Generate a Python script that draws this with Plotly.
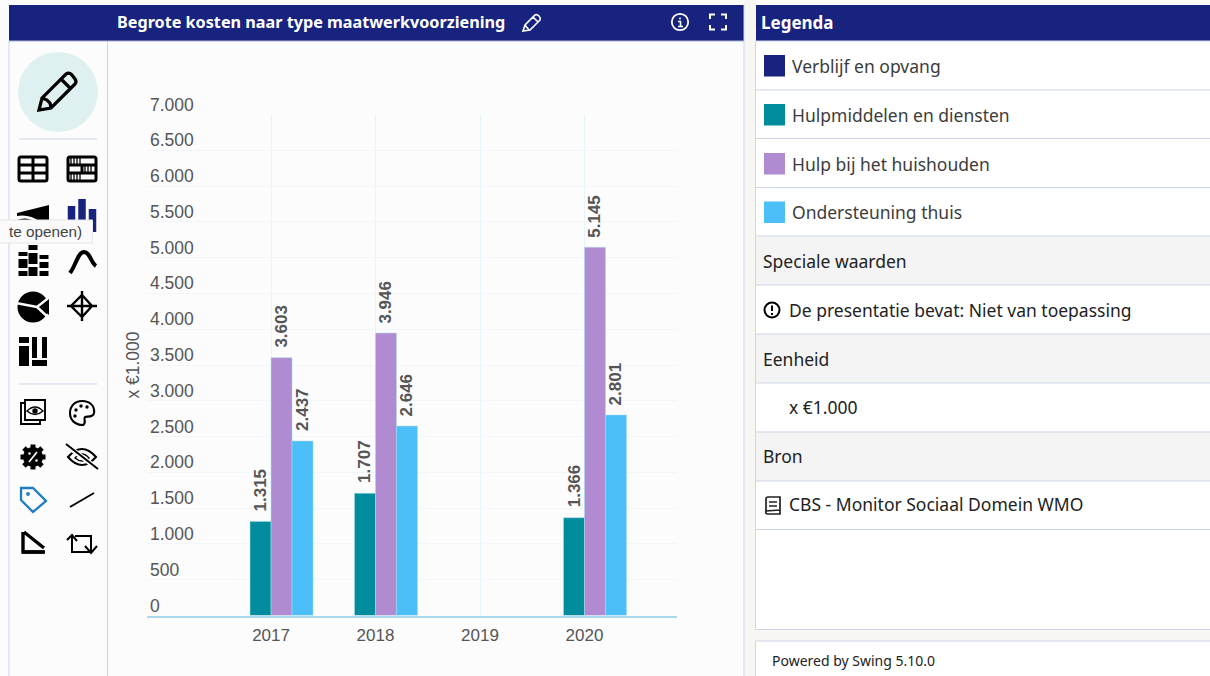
import re
import plotly.graph_objects as go

W, H = 1210, 676

years = ["2017", "2018", "2019", "2020"]
verblijf = [None, None, None, None]
hulpmiddelen = [1315, 1707, None, 1366]
huishouden = [3603, 3946, None, 5145]
ondersteuning = [2437, 2646, None, 2801]
series_names = ["Verblijf en opvang", "Hulpmiddelen en diensten", "Hulp bij het huishouden", "Ondersteuning thuis"]
series_colors = ["#17237e", "#008c9c", "#b08bd2", "#4cbef8"]
y_ticks = [0, 500, 1000, 1500, 2000, 2500, 3000, 3500, 4000, 4500, 5000, 5500, 6000, 6500, 7000]
panel_rows = ["Speciale waarden", "De presentatie bevat: Niet van toepassing", "Eenheid", "x €1.000", "Bron", "CBS - Monitor Sociaal Domein WMO"]

NAVY = "#17237e"
BORDER = "#cdd5e8"
GAP = "#f7f6f2"
UI_FONT = "Noto Sans"
CHART_FONT = "Liberation Sans"
GRAY = "#555555"
BG = "#fcfcfc"


def fmt(v):
    return f"{v:,}".replace(",", ".")


def px(x):
    return x / W


def py(y):
    return 1 - y / H


def conv(path):
    out, is_x = [], True
    for tok in re.findall(r"[MLCQZ]|-?\d+\.?\d*", path):
        if tok in "MLCQZ":
            out.append(tok)
            is_x = True
        else:
            out.append(f"{px(float(tok)) if is_x else py(float(tok)):.5f}")
            is_x = not is_x
    return " ".join(out)


shapes, notes = [], []


def rect(x0, y0, x1, y1, fill, line=None, lw=1, layer="below"):
    shapes.append(dict(type="rect", xref="paper", yref="paper", x0=px(x0), x1=px(x1), y0=py(y0), y1=py(y1),
                       fillcolor=fill, line=dict(color=line or "rgba(0,0,0,0)", width=lw if line else 0), layer=layer))


def circ(cx, cy, r, fill="rgba(0,0,0,0)", line=None, lw=2, layer="below"):
    shapes.append(dict(type="circle", xref="paper", yref="paper", x0=px(cx - r), x1=px(cx + r), y0=py(cy - r), y1=py(cy + r),
                       fillcolor=fill, line=dict(color=line or "rgba(0,0,0,0)", width=lw if line else 0), layer=layer))


def path(d, line="#000000", lw=2, fill="rgba(0,0,0,0)", layer="below"):
    shapes.append(dict(type="path", xref="paper", yref="paper", path=conv(d), fillcolor=fill,
                       line=dict(color=line or "rgba(0,0,0,0)", width=lw if line else 0), layer=layer))


def text(x, y, s, size=17, color="#333333", font=UI_FONT, anchor="left", bold=False):
    notes.append(dict(xref="paper", yref="paper", x=px(x), y=py(y), text=f"<b>{s}</b>" if bold else s, showarrow=False,
                      xanchor=anchor, yanchor="middle", borderpad=0, font=dict(family=font, size=size, color=color)))


# Page frame
rect(0, 0, W, H, BG)
rect(744, 0, 756, H, GAP)
rect(756, 630, W, 641, GAP)
rect(9, 5, 744, 41, NAVY)
rect(756, 5, W, 41, NAVY)
rect(755.5, 41, W + 2, 629.5, "#ffffff", BORDER)
rect(755.5, 641, W + 2, H + 2, "#ffffff", BORDER)
path("M 9 41 L 9 676", BORDER, 1)
path("M 744 5 L 744 676", BORDER, 1)
path("M 107.5 41 L 107.5 676", BORDER, 1)
path("M 9 41 L 744 41", "#aab2d0", 1)

# Header text
text(116, 22.5, "Begrote kosten naar type maatwerkvoorziening", 16.2, "#ffffff", bold=True)
text(760, 22.5, "Legenda", 17, "#ffffff", bold=True)

# Header icons
path("M 523 31 L 525 25 L 535 15 Q 537 14 539 16 Q 541 18 540 20 L 530 30 Z M 533 17 L 538 22 M 525 25 L 529 30", "#ffffff", 1.6)
circ(680, 22, 8.2, line="#ffffff", lw=1.8)
circ(680, 18.5, 1, fill="#ffffff")
path("M 678 21.5 L 680.5 21.5 L 680.5 26 M 678 26.5 L 683 26.5", "#ffffff", 1.6)
path("M 710 19 L 710 14.5 L 715 14.5 M 721 14.5 L 726 14.5 L 726 19 M 726 25 L 726 29.5 L 721 29.5 M 715 29.5 L 710 29.5 L 710 25", "#ffffff", 2)

# Legend rows
row_edges = [90, 138.5, 187.5, 236, 285, 334, 383, 432, 481, 529.5]
rect(756, 236.5, W, 285, "#f4f4f4")
rect(756, 334, W, 383, "#f4f4f4")
rect(756, 432, W, 481, "#f4f4f4")
for e in row_edges:
    path(f"M 756 {e} L {W} {e}", BORDER, 1)
swatch_y = [66, 115, 164, 212.5]
UI_SIZE = 17.5
for name, c, sy in zip(series_names, series_colors, swatch_y):
    rect(764, sy - 11, 785, sy + 10.5, c)
    text(791, sy - 0.5, name, UI_SIZE, "#3c3c3c")
text(762, 260.5, panel_rows[0], UI_SIZE, "#222222")
text(788, 309.5, panel_rows[1], UI_SIZE, "#222222")
text(762, 358.5, panel_rows[2], UI_SIZE, "#222222")
text(788, 407, panel_rows[3], UI_SIZE, "#222222")
text(762, 455.5, panel_rows[4], UI_SIZE, "#222222")
text(788, 504.5, panel_rows[5], UI_SIZE, "#222222")
text(771, 660.5, "Powered by Swing 5.10.0", 14, "#222222")
circ(772, 310, 7.5, line="#000000", lw=2)
path("M 772 305.5 L 772 311", "#000000", 2)
path("M 772 313 L 772 315", "#000000", 2)
path("M 766 512 L 766 499 Q 766 497 768 497 L 780 497 L 780 514 L 768 514 Q 765 514 766 511 L 780 510 M 769 502 L 777 502 M 769 506 L 777 506", "#222222", 1.7)

# Toolbar
circ(58, 92, 40, fill="#def0ef")
path("M 39 110 L 42 98 L 66 74 Q 69 72 72 75 L 75 79 Q 77 82 75 84 L 51 108 Z M 61 79 L 71 89 M 42 98 L 47 100 L 50 103 L 51 108", "#000000", 3.2)
path("M 19 139 L 97 139", BORDER, 1)
path("M 19 384 L 97 384", BORDER, 1)

# Table icons
path("M 21 157 L 45 157 Q 47 157 47 159 L 47 179 Q 47 181 45 181 L 21 181 Q 19 181 19 179 L 19 159 Q 19 157 21 157 Z M 19 165 L 47 165 M 19 173 L 47 173 M 33 157 L 33 181", "#000000", 3)
path("M 70 157 L 94 157 Q 96 157 96 159 L 96 179 Q 96 181 94 181 L 70 181 Q 68 181 68 179 L 68 159 Q 68 157 70 157 Z M 68 165 L 96 165 M 68 173 L 96 173 M 82 165 L 82 173", "#000000", 3)
for xs in (71, 74, 77, 80):
    path(f"M {xs} 157 L {xs} 165 M {xs} 173 L {xs} 181", "#000000", 1.3)
for xs in (85, 88, 91):
    path(f"M {xs} 165 L {xs} 173", "#000000", 1.3)

# Wedge and blue bars (partly behind the tooltip)
path("M 17 213 L 49 205 L 49 222 L 40 222 Q 30 214 17 216 Z", None, 0, "#000000")
path("M 17 220 Q 26 216 36 222 L 17 222 Z", None, 0, "#000000")
for x0, y0, y1 in ((71.5, 206, 232), (82, 199, 232), (92.5, 209, 232)):
    path(f"M {x0} {y1} L {x0} {y0}", NAVY, 7.5)

# Stacked bars
for x0, segs in ((23, [(252, 256), (259, 268), (271, 276)]), (33, [(245, 250), (253, 264), (267, 276)]), (44, [(255, 259), (262, 268), (271, 276)])):
    for a, b in segs:
        path(f"M {x0} {a} L {x0} {b}", "#000000", 9)

# Curve
path("M 70 273 C 76 265 78 252 84 252 C 90 252 91 263 96 266", "#000000", 4)

# Pie
circ(33, 307, 15.5, fill="#000000")
path("M 37 307 L 51 296 M 37 307 L 50 319 M 37 307 L 16 303", BG, 2.4)
path("M 40 307 L 49 299 L 49 315 Z", None, 0, "#000000")

# Crosshair
path("M 82 295 L 92 306 L 82 317 L 71 306 Z M 82 291 L 82 321 M 67 306 L 97 306", "#000000", 2.4)

# Treemap
for x0, y0, x1, y1 in ((19, 337, 29, 343), (19, 346, 29, 366), (32, 337, 37, 358), (42, 337, 47, 358), (32, 360, 47, 366)):
    rect(x0, y0, x1, y1, "#000000")

# Eye stack
path("M 25 400 L 45 400 L 45 420 L 25 420 Z M 25 403 L 21 403 L 21 424 L 40 424 L 40 420", "#000000", 1.9)
path("M 27 411 Q 35 403 43 411 Q 35 418 27 411 Z", "#000000", 1.4)
circ(35, 411, 2.7, fill="#000000")

# Palette
path("M 82 401 C 90 401 95 406 94 413 C 93 418 87 416 85 417 C 83 419 87 423 83 425 C 75 425 70 420 70 413 C 70 406 75 401 82 401 Z", "#000000", 2.1)
for cx, cy, r in ((76, 410, 1.7), (81, 406, 1.7), (87, 407, 1.7), (75, 416, 1.7)):
    circ(cx, cy, r, fill="#000000")

# Gear
circ(33, 457, 10, fill="#000000")
for a, b, c, d in ((33, 444.5, 33, 469.5), (20.5, 457, 45.5, 457), (24, 448, 42, 466), (24, 466, 42, 448)):
    path(f"M {a} {b} L {c} {d}", "#000000", 5)
path("M 29 462 L 37 452", BG, 1.7)
circ(29.5, 453.5, 1.3, fill=BG)
circ(36.5, 460.5, 1.3, fill=BG)

# Eye with slash
path("M 68 457 Q 82 441 96 457 Q 82 473 68 457 Z", "#000000", 2)
path("M 75 458 Q 82 450 89 458 Q 82 464 75 458 Z", "#000000", 1.4)
path("M 66 445 L 98 469", BG, 5)
path("M 66 444 L 98 469", "#000000", 2)

# Tag
path("M 21 488 L 33 488 L 46 501 L 33 512 L 21 500 Z", "#1f7ec2", 2.3)
circ(28, 494, 1.9, fill="#1f7ec2")

# Slash line
path("M 70 507 L 94 493", "#000000", 1.9)

# Triangle
path("M 23 532 L 23 552 L 45 552 M 24 532 L 44 548", "#000000", 3.4)
path("M 23 552 L 44 552", "#000000", 3.4)

# Repeat arrows
path("M 67 540 L 72 535 L 77 541 M 72 536 L 72 552 L 90 552 M 75 536 L 91 536 L 91 552 M 85 546 L 91 553 L 97 546", "#000000", 2)

# Chart value and axis labels
y_labels = [fmt(v) for v in y_ticks]
for v, s in zip(y_ticks, y_labels):
    notes.append(dict(xref="paper", yref="y", x=px(148.5), y=v, yshift=10, text=s, showarrow=False, xanchor="left",
                      yanchor="middle", borderpad=0, font=dict(family=CHART_FONT, size=17.5, color=GRAY)))

fig = go.Figure()
values = [verblijf, hulpmiddelen, huishouden, ondersteuning]
BAR_PX = 20.9
for i, (name, c, vals) in enumerate(zip(series_names, series_colors, values)):
    fig.add_bar(x=years, y=vals, name=name, marker=dict(color=c, line=dict(color="#a8deee", width=0.5)))
    for k, v in enumerate(vals):
        if v is not None:
            notes.append(dict(xref="x", yref="y", x=k, y=v, xshift=(i - 1.5) * BAR_PX, yshift=9, text=f"<b>{fmt(v)}</b>",
                              textangle=-90, showarrow=False, xanchor="center", yanchor="bottom", borderpad=0,
                              font=dict(family=CHART_FONT, size=17, color=GRAY)))

# Tooltip above the toolbar
shapes.append(dict(type="rect", xref="paper", yref="paper", x0=px(-6), x1=px(92.5), y0=py(220), y1=py(243),
                   fillcolor="#fafafa", line=dict(color="#e6e6e6", width=1), layer="above"))
notes.append(dict(xref="paper", yref="paper", x=px(8), y=py(231.5), text="te openen)", showarrow=False, xanchor="left",
                  yanchor="middle", borderpad=0, font=dict(family=CHART_FONT, size=15.3, color="#444444")))

fig.update_layout(
    width=W, height=H, autosize=False, margin=dict(l=0, r=0, t=0, b=0), showlegend=False,
    paper_bgcolor=BG, plot_bgcolor="rgba(0,0,0,0)", barmode="group", bargap=0.196, bargroupgap=0,
    shapes=shapes, annotations=notes,
    xaxis=dict(domain=[px(147), px(677)], type="category", categoryorder="array", categoryarray=years,
               range=[-1.187, 3.885], showgrid=True, gridcolor="#e3f5f9", gridwidth=1, showline=True,
               linecolor="#a9d9ea", linewidth=1.5, ticks="", ticklabelstandoff=3, zeroline=False,
               tickfont=dict(family=CHART_FONT, size=17, color=GRAY), fixedrange=True),
    yaxis=dict(domain=[py(615.5), py(114.5)], range=[0, 7000], tickvals=y_ticks, showticklabels=False,
               showgrid=True, gridcolor="#f1f6fb", gridwidth=1, zeroline=False, fixedrange=True,
               title=dict(text="x €1.000", standoff=1, font=dict(family=CHART_FONT, size=17.5, color=GRAY))),
)

fig.write_html("out.html", config=dict(displayModeBar=False),
               post_script="document.body.style.margin='0';document.body.style.overflow='hidden';")
